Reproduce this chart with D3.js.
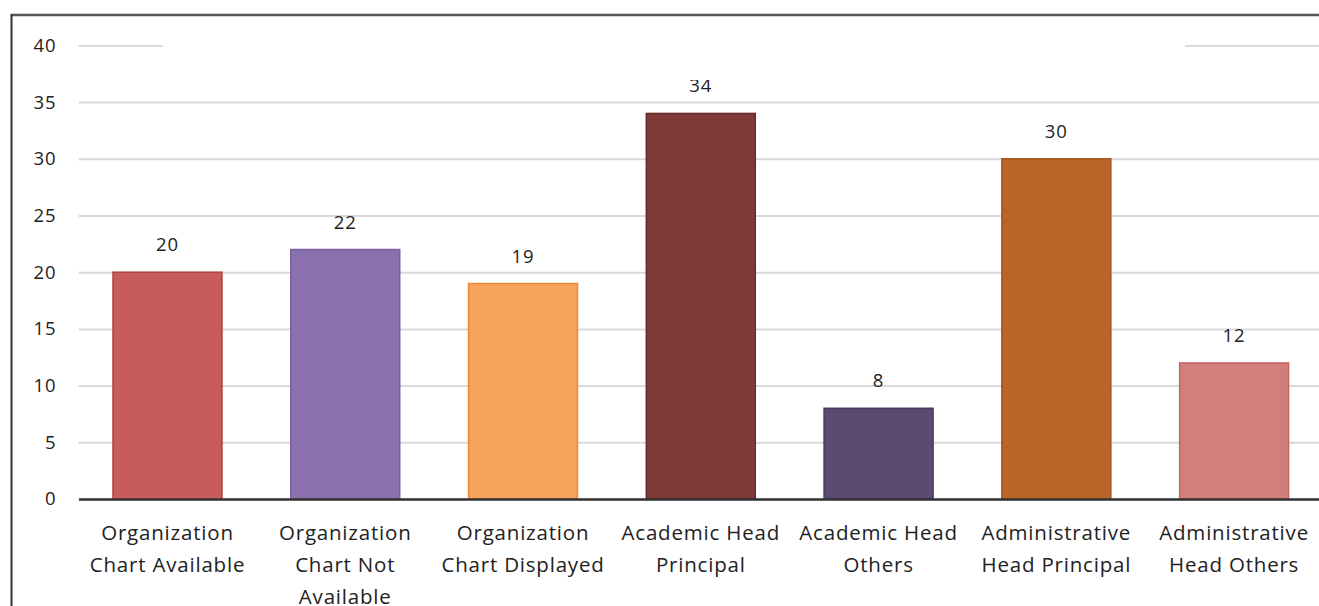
<!DOCTYPE html>
<html>
<head>
<meta charset="utf-8">
<script src="https://cdn.jsdelivr.net/npm/d3@7"></script>
<style>
  html, body { margin: 0; padding: 0; background: #fff; }
  svg { display: block; }
  text { font-family: "Open Sans", Lato, sans-serif; fill: #222; }
</style>
</head>
<body>
<svg id="chart" width="1319" height="606"></svg>
<script>
// Category labels (each array entry is one text line)
const categories = [
  ["Organization", "Chart Available"],
  ["Organization", "Chart Not", "Available"],
  ["Organization", "Chart Displayed"],
  ["Academic Head", "Principal"],
  ["Academic Head", "Others"],
  ["Administrative", "Head Principal"],
  ["Administrative", "Head Others"]
];
const values = [20, 22, 19, 34, 8, 30, 12];
const fills = ["#c65d5a", "#8a71ad", "#f6a35c", "#7e3a39", "#5d4a73", "#ba6528", "#d27e7d"];
const strokes = ["#b0403c", "#7a5f9e", "#f08a35", "#6a2a29", "#4a385f", "#a5541c", "#c96462"];
const yTicks = [0, 5, 10, 15, 20, 25, 30, 35, 40];

const svg = d3.select("#chart");
const margin = { left: 78.6, right: 1323, top: 45.4, bottom: 499 };

const x = d3.scaleBand()
  .domain(d3.range(categories.length))
  .range([margin.left, margin.right])
  .paddingInner(0.387)
  .paddingOuter(0.1935);

const y = d3.scaleLinear().domain([0, 40]).range([margin.bottom, margin.top]);

// Horizontal gridlines with tick labels
const yAxis = d3.axisLeft(y).tickValues(yTicks).tickSize(-(margin.right - margin.left)).tickPadding(22);
const gy = svg.append("g").attr("transform", `translate(${margin.left},0)`).call(yAxis);
gy.select(".domain").remove();
gy.selectAll(".tick line").attr("stroke", "#d9d9d9").attr("stroke-width", 2);
gy.selectAll(".tick text").attr("font-size", 18.5).attr("fill", "#222")
  .attr("letter-spacing", 1)
  .style("font-family", "'Open Sans', Lato, sans-serif");

// Bars
svg.append("g").selectAll("rect").data(values).join("rect")
  .attr("x", (d, i) => x(i))
  .attr("y", d => y(d))
  .attr("width", x.bandwidth())
  .attr("height", d => y(0) - y(d))
  .attr("fill", (d, i) => fills[i])
  .attr("stroke", (d, i) => strokes[i])
  .attr("stroke-width", 1.5);

// Value labels
svg.append("g").selectAll("text").data(values).join("text")
  .attr("x", (d, i) => x(i) + x.bandwidth() / 2)
  .attr("y", d => y(d) - 21)
  .attr("text-anchor", "middle")
  .attr("font-size", 18.5)
  .attr("letter-spacing", 1)
  .text(d => d);

// Title area background, blank
svg.append("rect").attr("x", 163).attr("y", 17).attr("width", 1022).attr("height", 63).attr("fill", "#fff");

// Baseline axis
const xAxis = d3.axisBottom(x).tickSize(0).tickFormat("");
const gx = svg.append("g").attr("transform", `translate(0,${margin.bottom})`).call(xAxis);
gx.select(".domain").attr("stroke", "#333").attr("stroke-width", 2.5);

// Category labels
const lab = svg.append("g").selectAll("text").data(categories).join("text")
  .attr("x", (d, i) => x(i) + x.bandwidth() / 2)
  .attr("y", 540)
  .attr("text-anchor", "middle")
  .attr("font-size", 20.5)
  .attr("letter-spacing", 0.8);
lab.selectAll("tspan").data(d => d).join("tspan")
  .attr("x", function () { return d3.select(this.parentNode).attr("x"); })
  .attr("dy", (d, j) => j === 0 ? 0 : 32)
  .text(d => d);

// Frame border (top and left)
svg.append("line").attr("x1", 11).attr("x2", 1319).attr("y1", 15).attr("y2", 15)
  .attr("stroke", "#555").attr("stroke-width", 2.5);
svg.append("line").attr("x1", 11.5).attr("x2", 11.5).attr("y1", 14).attr("y2", 606)
  .attr("stroke", "#333").attr("stroke-width", 2);
</script>
</body>
</html>
